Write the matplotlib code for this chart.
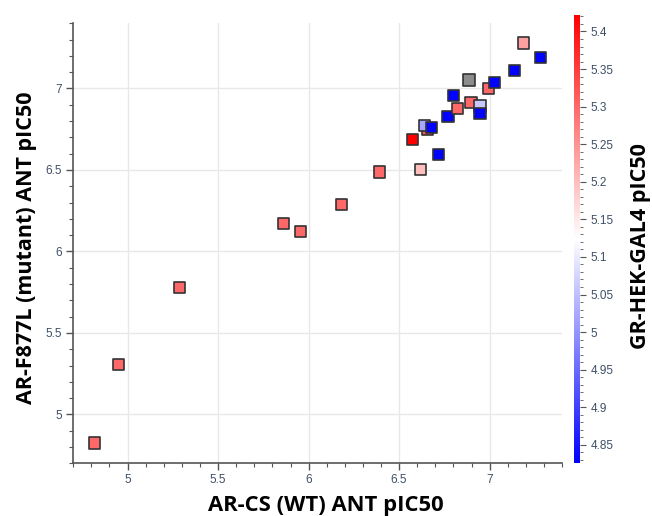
import numpy as np
import matplotlib
matplotlib.use("Agg")
import matplotlib.pyplot as plt
from matplotlib.ticker import MultipleLocator
from matplotlib.colors import Normalize

# Data
wt_pic50 = [4.817, 4.952, 5.288, 5.861, 5.955, 6.184, 6.393,
            6.619, 6.718, 6.576, 6.659, 6.641, 6.681, 6.770, 6.824,
            6.800, 6.888, 6.897, 6.947, 6.947, 6.993, 7.028, 7.139,
            7.281, 7.187]
mutant_pic50 = [4.825, 5.305, 5.780, 6.170, 6.125, 6.288, 6.487,
                6.500, 6.592, 6.684, 6.751, 6.775, 6.759, 6.826, 6.878,
                6.955, 7.053, 6.912, 6.892, 6.845, 7.000, 7.034, 7.112,
                7.191, 7.279]
gr_pic50 = [5.30, 5.30, 5.30, 5.30, 5.30, 5.30, 5.30,
            5.20, 4.83, 5.42, 5.32, 5.02, 4.83, 4.83, 5.30,
            4.83, np.nan, 5.30, 5.06, 4.83, 5.30, 4.83, 4.83,
            4.83, 5.235]

x_ticks = [5, 5.5, 6, 6.5, 7]
y_ticks = [5, 5.5, 6, 6.5, 7]
cbar_ticks = [4.85, 4.9, 4.95, 5.0, 5.05, 5.1, 5.15, 5.2, 5.25, 5.3, 5.35, 5.4]

plt.rcParams['font.family'] = ['Liberation Sans', 'DejaVu Sans']
fig = plt.figure(figsize=(6.52, 5.16), dpi=100)
ax = fig.add_axes([0.1124, 0.102, 0.7496, 0.853])
cax = fig.add_axes([0.8804, 0.103, 0.0092, 0.868])

norm = Normalize(vmin=4.826, vmax=5.422)
cmap = plt.get_cmap('bwr')

x = np.array(wt_pic50)
y = np.array(mutant_pic50)
c = np.array(gr_pic50)
nan = np.isnan(c)
ax.scatter(x[nan], y[nan], marker='s', s=64, facecolor='#8c8c8c',
           edgecolor='#333333', linewidth=1.2, zorder=3)
sc = ax.scatter(x[~nan], y[~nan], c=c[~nan], cmap=cmap, norm=norm,
                marker='s', s=64, edgecolor='#333333', linewidth=1.2, zorder=3)

ax.set_xlim(4.7, 7.4)
ax.set_ylim(4.7, 7.4)
ax.set_xticks(x_ticks)
ax.set_yticks(y_ticks)
ax.set_xticklabels([f"{t:g}" for t in x_ticks])
ax.set_yticklabels([f"{t:g}" for t in y_ticks])
ax.xaxis.set_minor_locator(MultipleLocator(0.1))
ax.yaxis.set_minor_locator(MultipleLocator(0.1))
ax.grid(True, which='major', color='#e8e8e8', linewidth=1.0, zorder=0)
ax.set_axisbelow(True)
for s in ['top', 'right']:
    ax.spines[s].set_visible(False)
for s in ['left', 'bottom']:
    ax.spines[s].set_color('#555555')
    ax.spines[s].set_linewidth(1.2)
tick_color = '#3d4f66'
ax.tick_params(which='major', direction='out', length=5, width=1, color='#555555',
               labelsize=8.5, labelcolor=tick_color, pad=3)
ax.tick_params(which='minor', direction='out', length=3, width=0.8, color='#555555')

label_font = ['Open Sans', 'DejaVu Sans']
ax.set_xlabel('AR-CS (WT) ANT pIC50', fontsize=15.8, fontweight='bold',
              family=label_font, labelpad=6)
ax.xaxis.label.set_x(0.516)
ax.set_ylabel('AR-F877L (mutant) ANT pIC50', fontsize=15.5, fontweight='bold',
              family=label_font, labelpad=6)
ax.yaxis.label.set_y(0.49)

cb = fig.colorbar(sc, cax=cax)
cb.set_ticks(cbar_ticks)
cb.set_ticklabels([f"{t:g}" for t in cbar_ticks])
cb.outline.set_visible(False)
cax.yaxis.set_minor_locator(MultipleLocator(0.01))
cax.tick_params(which='major', length=4, width=0.8, color='#555555',
                labelsize=8.5, labelcolor=tick_color)
cax.tick_params(which='minor', length=2, width=0.6, color='#555555')
cb.set_label('GR-HEK-GAL4 pIC50', fontsize=15.5, fontweight='bold',
             family=label_font, labelpad=12)
cax.yaxis.label.set_y(0.483)

fig.savefig('out.png', dpi=100)
